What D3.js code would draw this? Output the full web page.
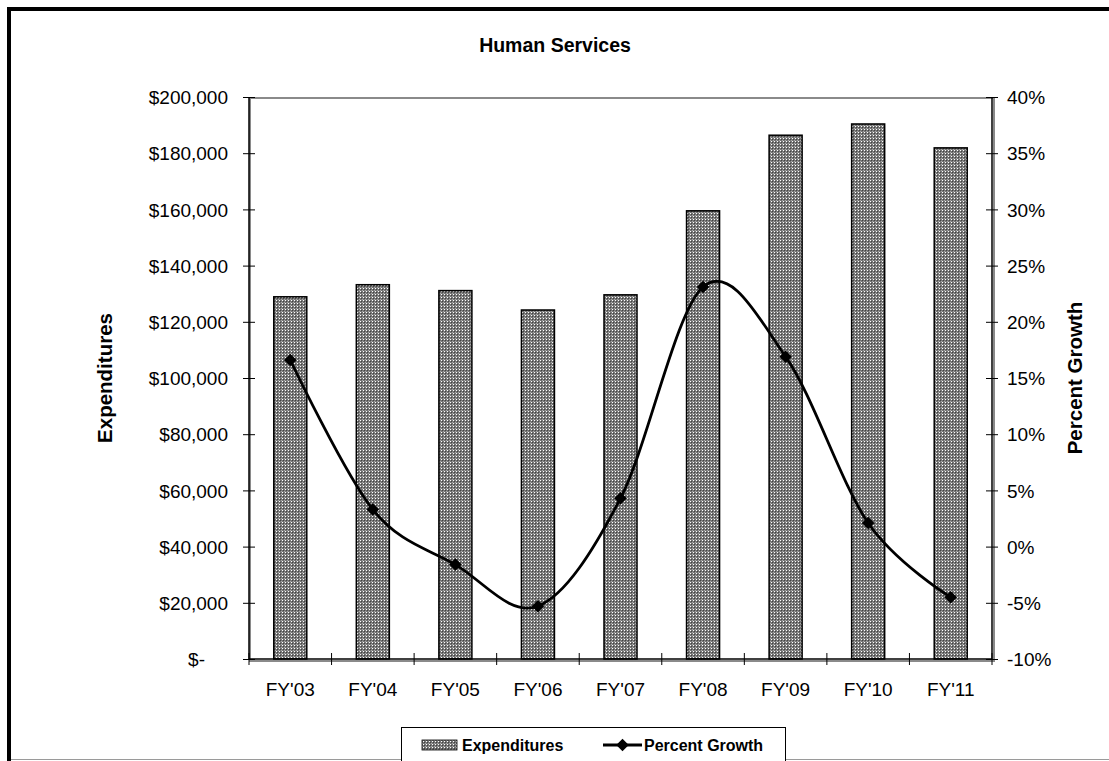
<!DOCTYPE html>
<html>
<head>
<meta charset="utf-8">
<script src="https://cdn.jsdelivr.net/npm/d3@7"></script>
<style>
  html, body { margin: 0; padding: 0; background: #fff; }
  svg { display: block; font-family: "Liberation Sans", Arial, sans-serif; }
</style>
</head>
<body>
<svg id="chart" width="1109" height="761"></svg>
<script>
// Fiscal years on the category axis
const categories = ["FY'03", "FY'04", "FY'05", "FY'06", "FY'07", "FY'08", "FY'09", "FY'10", "FY'11"];
// Expenditures (left axis, dollars)
const expenditures = [128900, 133200, 131100, 124200, 129600, 159500, 186400, 190400, 181900];
// Year-over-year growth (right axis, percent)
const percentGrowth = [16.6, 3.3, -1.6, -5.3, 4.3, 23.1, 16.9, 2.1, -4.5];
// Tick values for both value axes
const leftTicks = [0, 20000, 40000, 60000, 80000, 100000, 120000, 140000, 160000, 180000, 200000];
const rightTicks = [-10, -5, 0, 5, 10, 15, 20, 25, 30, 35, 40];

const svg = d3.select("#chart");
const plot = { left: 249, right: 992, top: 97, bottom: 659 };

// Fill pattern for the bars: grey with a fine white dot grid
const defs = svg.append("defs");
const pat = defs.append("pattern")
  .attr("id", "dots").attr("width", 3).attr("height", 3)
  .attr("patternUnits", "userSpaceOnUse");
pat.append("rect").attr("width", 3).attr("height", 3).attr("fill", "#747474");
pat.append("rect").attr("x", 0).attr("y", 0).attr("width", 1).attr("height", 1).attr("fill", "#ffffff");
pat.append("rect").attr("x", 1).attr("y", 1).attr("width", 1).attr("height", 1).attr("fill", "#444444");
pat.append("rect").attr("x", 2).attr("y", 2).attr("width", 1).attr("height", 1).attr("fill", "#a8a8a8");

// Outer chart frame
svg.append("rect").attr("x", 9).attr("y", 9).attr("width", 1200).attr("height", 800)
  .attr("fill", "#fff").attr("stroke", "#000").attr("stroke-width", 4);
svg.append("line").attr("x1", 11).attr("x2", 1109).attr("y1", 759.5).attr("y2", 759.5)
  .attr("stroke", "#9a9a9a").attr("stroke-width", 1);

// Scales
const x = d3.scaleBand().domain(categories).range([plot.left, plot.right]).padding(0);
const yLeft = d3.scaleLinear().domain([0, 200000]).range([plot.bottom, plot.top]);
const yRight = d3.scaleLinear().domain([-10, 40]).range([plot.bottom, plot.top]);

// Plot-area border (grey)
svg.append("rect")
  .attr("x", plot.left + 1).attr("y", plot.top + 1)
  .attr("width", plot.right - plot.left + 1).attr("height", plot.bottom - plot.top + 1)
  .attr("fill", "none").attr("stroke", "#8a8a8a").attr("stroke-width", 2);

// Bars
const barW = x.bandwidth() * 0.4;
svg.append("g").selectAll("rect")
  .data(categories)
  .join("rect")
  .attr("x", (d) => x(d) + (x.bandwidth() - barW) / 2)
  .attr("y", (d, i) => yLeft(expenditures[i]))
  .attr("width", barW)
  .attr("height", (d, i) => yLeft(0) - yLeft(expenditures[i]))
  .attr("fill", "url(#dots)")
  .attr("stroke", "#000")
  .attr("stroke-width", 1.5);

const fontSize = 19;

// Left value axis, ticks crossing the axis line
const gLeft = svg.append("g").attr("transform", `translate(${plot.left},0)`)
  .call(d3.axisLeft(yLeft).tickValues(leftTicks).tickSize(6).tickPadding(0)
    .tickFormat((d) => d === 0 ? "$-" : d3.format("$,")(d)));
gLeft.select(".domain").remove();
gLeft.selectAll(".tick line").attr("x1", 6).attr("x2", -6).attr("stroke", "#000");
gLeft.selectAll(".tick text")
  .attr("x", (d) => d === 0 ? -44 : -21)
  .attr("dy", "0.35em")
  .attr("font-size", fontSize).attr("fill", "#000")
  .attr("font-family", "Liberation Sans, Arial, sans-serif");

// Right value axis
const gRight = svg.append("g").attr("transform", `translate(${plot.right},0)`)
  .call(d3.axisRight(yRight).tickValues(rightTicks).tickSize(6)
    .tickFormat((d) => d + "%"));
gRight.select(".domain").remove();
gRight.selectAll(".tick line").attr("x1", -6).attr("x2", 6).attr("stroke", "#000");
gRight.selectAll(".tick text")
  .attr("x", 15)
  .attr("dy", "0.35em")
  .attr("font-size", fontSize).attr("fill", "#000")
  .attr("font-family", "Liberation Sans, Arial, sans-serif");

// Category axis: labels centred in each band, ticks at band edges
const gBottom = svg.append("g").attr("transform", `translate(0,${plot.bottom})`);
const boundaries = categories.map((c) => x(c)).concat([plot.right]);
gBottom.selectAll("line.tick")
  .data(boundaries)
  .join("line")
  .attr("class", "tick")
  .attr("x1", (d) => d).attr("x2", (d) => d)
  .attr("y1", -6).attr("y2", 6)
  .attr("stroke", "#000");
gBottom.selectAll("text")
  .data(categories)
  .join("text")
  .attr("x", (d) => x(d) + x.bandwidth() / 2)
  .attr("y", 37)
  .attr("text-anchor", "middle")
  .attr("font-size", fontSize)
  .text((d) => d);

// Black axis lines
svg.append("line").attr("x1", plot.left).attr("x2", plot.left)
  .attr("y1", plot.top).attr("y2", plot.bottom).attr("stroke", "#000").attr("stroke-width", 1.5);
svg.append("line").attr("x1", plot.right).attr("x2", plot.right)
  .attr("y1", plot.top).attr("y2", plot.bottom).attr("stroke", "#000").attr("stroke-width", 1.5);
svg.append("line").attr("x1", plot.left).attr("x2", plot.right)
  .attr("y1", plot.bottom).attr("y2", plot.bottom).attr("stroke", "#000").attr("stroke-width", 1.5);

// Growth line (smoothed) and diamond markers
const linePts = categories.map((c, i) => [x(c) + x.bandwidth() / 2, yRight(percentGrowth[i])]);
svg.append("path")
  .attr("d", d3.line().curve(d3.curveCardinal.tension(0))(linePts))
  .attr("fill", "none").attr("stroke", "#000").attr("stroke-width", 2.8);
const diamond = d3.symbol().type(d3.symbolDiamond2).size(100);
svg.append("g").selectAll("path")
  .data(linePts)
  .join("path")
  .attr("transform", (d) => `translate(${d[0]},${d[1]})`)
  .attr("d", diamond)
  .attr("fill", "#000");

// Titles
svg.append("text").attr("x", 555).attr("y", 52).attr("text-anchor", "middle")
  .attr("font-size", 19.5).attr("font-weight", "bold").text("Human Services");
svg.append("text")
  .attr("transform", `translate(112,${(plot.top + plot.bottom) / 2}) rotate(-90)`)
  .attr("text-anchor", "middle").attr("font-size", 20.5).attr("font-weight", "bold")
  .text("Expenditures");
svg.append("text")
  .attr("transform", `translate(1082,${(plot.top + plot.bottom) / 2}) rotate(-90)`)
  .attr("text-anchor", "middle").attr("font-size", 20.5).attr("font-weight", "bold")
  .text("Percent Growth");

// Legend
const lg = svg.append("g");
lg.append("rect").attr("x", 401.5).attr("y", 727.5).attr("width", 384).attr("height", 60)
  .attr("fill", "#fff").attr("stroke", "#000").attr("stroke-width", 1);
lg.append("rect").attr("x", 422).attr("y", 740).attr("width", 35).attr("height", 10)
  .attr("fill", "url(#dots)").attr("stroke", "#000").attr("stroke-width", 0.8);
lg.append("text").attr("x", 462).attr("y", 751).attr("font-size", 16).attr("font-weight", "bold")
  .text("Expenditures");
lg.append("line").attr("x1", 603).attr("x2", 642).attr("y1", 745).attr("y2", 745)
  .attr("stroke", "#000").attr("stroke-width", 2.8);
lg.append("path").attr("transform", "translate(622.5,745)").attr("d", diamond).attr("fill", "#000");
lg.append("text").attr("x", 644).attr("y", 751).attr("font-size", 16).attr("font-weight", "bold")
  .text("Percent Growth");
</script>
</body>
</html>
